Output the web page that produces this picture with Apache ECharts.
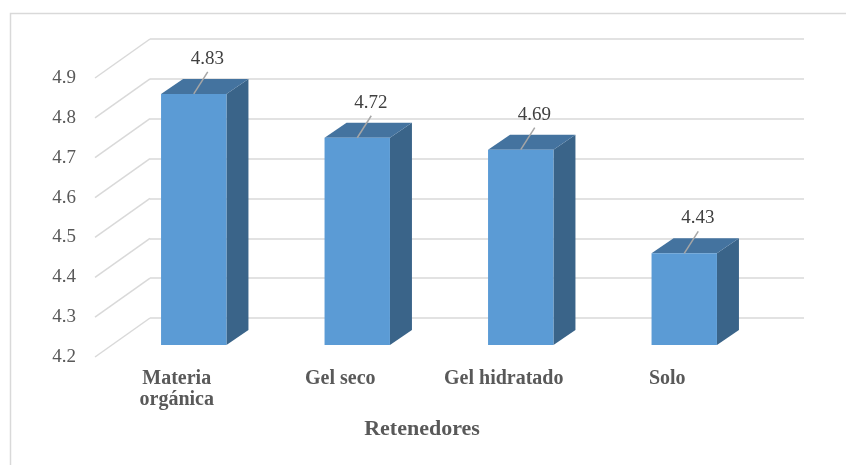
<!DOCTYPE html>
<html>
<head>
<meta charset="utf-8">
<script src="https://cdn.jsdelivr.net/npm/echarts@6/dist/echarts.min.js"></script>
<style>
  html, body { margin: 0; padding: 0; background: #ffffff; }
  #chart { width: 846px; height: 465px; }
</style>
</head>
<body>
<div id="chart"></div>
<script>
// Retention values per water-retaining material
const categories = ['Materia\norgánica', 'Gel seco', 'Gel hidratado', 'Solo'];
const values = [4.83, 4.72, 4.69, 4.43];
const yTicks = [4.2, 4.3, 4.4, 4.5, 4.6, 4.7, 4.8, 4.9];
const axisTitle = 'Retenedores';

const Y_MIN = 4.2, Y_MAX = 4.9, Y_STEP = 0.1;

// Pseudo-3D depth offsets (pixels) relative to the back wall
const WALL_DX = -55, WALL_DY = 39;   // back wall -> front edge of side wall / floor
const FRONT_DX = -38, FRONT_DY = 27; // back wall -> bar front face
const BACK_DX = -16, BACK_DY = 12;   // back wall -> bar back face

const FONT = "'Liberation Serif', 'Times New Roman', serif";
const GRID_COLOR = '#D9D9D9';

const chart = echarts.init(document.getElementById('chart'), null, { renderer: 'canvas' });

function renderBar(params, api) {
  const cat = api.value(0);
  const v = api.value(1);
  const top = api.coord([cat, v]);
  const base = api.coord([cat, Y_MIN]);
  const band = api.size([1, 0])[0];
  const w = band * 0.4;
  const fx = top[0] + FRONT_DX, fy = top[1] + FRONT_DY, fb = base[1] + FRONT_DY;
  const bx = top[0] + BACK_DX, by = top[1] + BACK_DY, bb = base[1] + BACK_DY;
  return {
    type: 'group',
    children: [
      { type: 'polygon', shape: { points: [[fx + w / 2, fy], [bx + w / 2, by], [bx + w / 2, bb], [fx + w / 2, fb]] },
        style: { fill: '#3A6489' } },
      { type: 'polygon', shape: { points: [[fx - w / 2, fy], [fx + w / 2, fy], [bx + w / 2, by], [bx - w / 2, by]] },
        style: { fill: '#44739F' } },
      { type: 'rect', shape: { x: fx - w / 2, y: fy, width: w, height: fb - fy },
        style: { fill: '#5B9BD5' } },
      { type: 'line', shape: { x1: fx, y1: fy, x2: fx + 14, y2: fy - 22 },
        style: { stroke: '#A6A6A6', lineWidth: 1.5 } },
      { type: 'text', style: { text: v.toFixed(2), x: fx + 13.5, y: fy - 35, align: 'center', verticalAlign: 'middle',
        fill: '#404040', font: '19px ' + FONT } }
    ]
  };
}

function renderWallLine(params, api) {
  const y = api.coord([0, api.value(1)])[1];
  const x = params.coordSys.x;
  return { type: 'line', shape: { x1: x, y1: y, x2: x + WALL_DX, y2: y + WALL_DY },
    style: { stroke: GRID_COLOR, lineWidth: 1.5 } };
}

const option = {
  backgroundColor: '#ffffff',
  animation: false,
  graphic: [
    { type: 'rect', left: 8, top: 11, shape: { width: 900, height: 500 },
      style: { fill: 'none', stroke: GRID_COLOR, lineWidth: 1.5 } }
  ],
  grid: [
    { left: 150, right: 42, top: 39, bottom: 147 },                  // back wall
    { left: 150 + WALL_DX, right: 42 - WALL_DX, top: 39 + WALL_DY, bottom: 147 - WALL_DY } // front plane
  ],
  xAxis: [
    { type: 'category', gridIndex: 0, data: categories, show: false },
    { type: 'category', gridIndex: 1, data: categories,
      axisLine: { show: false }, axisTick: { show: false },
      axisLabel: { margin: 11, color: '#595959', fontFamily: FONT, fontWeight: 'bold', fontSize: 20, lineHeight: 21 },
      name: axisTitle, nameLocation: 'middle', nameGap: 61,
      nameTextStyle: { color: '#595959', fontFamily: FONT, fontWeight: 'bold', fontSize: 22 } }
  ],
  yAxis: [
    { type: 'value', gridIndex: 0, min: Y_MIN, max: Y_MAX, interval: Y_STEP,
      axisLine: { show: false }, axisTick: { show: false }, axisLabel: { show: false },
      splitLine: { lineStyle: { color: GRID_COLOR, width: 1.5 } } },
    { type: 'value', gridIndex: 1, min: Y_MIN, max: Y_MAX, interval: Y_STEP,
      axisLine: { show: false }, axisTick: { show: false }, splitLine: { show: false },
      axisLabel: { margin: 19, color: '#595959', fontFamily: FONT, fontSize: 19,
        formatter: (v) => v.toFixed(1) } }
  ],
  series: [
    { type: 'custom', xAxisIndex: 0, yAxisIndex: 0, clip: false, silent: true,
      renderItem: renderWallLine, data: yTicks.map((t) => [0, t]), z: 1 },
    { type: 'custom', xAxisIndex: 0, yAxisIndex: 0, clip: false, silent: true,
      renderItem: renderBar, data: values.map((v, i) => [i, v]), z: 2 }
  ]
};

chart.setOption(option);
</script>
</body>
</html>
